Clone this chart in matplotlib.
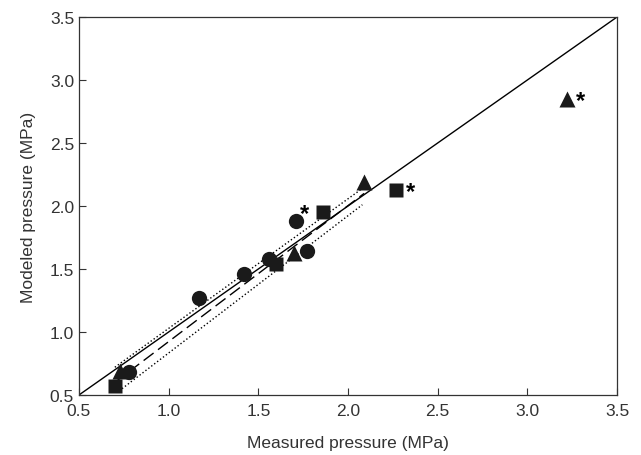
import matplotlib
matplotlib.use('agg')
import matplotlib.pyplot as plt

plt.rcParams['font.family'] = ['Liberation Sans', 'DejaVu Sans']

# measured vs modeled pressure (MPa)
circ_x = [0.78, 1.17, 1.42, 1.56, 1.71, 1.77]
circ_y = [0.68, 1.27, 1.46, 1.58, 1.88, 1.64]
sq_x = [0.70, 1.60, 1.86, 2.27]
sq_y = [0.57, 1.54, 1.95, 2.13]
tri_x = [0.73, 1.70, 2.09, 3.22]
tri_y = [0.69, 1.63, 2.19, 2.85]

# points flagged with an asterisk
star_x = [1.71, 2.27, 3.22]
star_y = [1.88, 2.13, 2.85]

# 1:1 line, regression and confidence bounds (end points)
one_x = [0.5, 3.5]
one_y = [0.5, 3.5]
fit_x = [0.70, 2.09]
fit_y = [0.60, 2.10]
up_x = [0.70, 2.10]
up_y = [0.72, 2.16]
lo_x = [0.74, 2.08]
lo_y = [0.55, 2.01]

fig = plt.figure(figsize=(6.41, 4.56), dpi=100)
ax = fig.add_axes([0.1232, 0.1316, 0.8394, 0.8289])

ax.plot(one_x, one_y, color='black', lw=1)
ax.plot(fit_x, fit_y, color='black', lw=1, dashes=(9, 4))
ax.plot(up_x, up_y, color='black', lw=1, ls=':')
ax.plot(lo_x, lo_y, color='black', lw=1, ls=':')

ax.plot(circ_x, circ_y, 'o', color='#1a1a1a', ms=11, mec='none')
ax.plot(sq_x, sq_y, 's', color='#1a1a1a', ms=10, mec='none')
ax.plot(tri_x, tri_y, '^', color='#1a1a1a', ms=11, mec='none')

# asterisk offsets (points) next to each flagged marker
star_dx = [3, 6.5, 6.5]
star_dy = [5.5, -1.5, -1.5]
for i in range(len(star_x)):
    ax.annotate('*', (star_x[i], star_y[i]), xytext=(star_dx[i], star_dy[i]),
                textcoords='offset points', fontsize=17, fontweight='bold',
                ha='left', va='center')

ax.set_xlim(0.5, 3.5)
ax.set_ylim(0.5, 3.5)
ax.set_xticks([0.5, 1.0, 1.5, 2.0, 2.5, 3.0, 3.5])
ax.set_yticks([0.5, 1.0, 1.5, 2.0, 2.5, 3.0, 3.5])
ax.set_xticklabels(['0.5', '1.0', '1.5', '2.0', '2.5', '3.0', '3.5'])
ax.set_yticklabels(['0.5', '1.0', '1.5', '2.0', '2.5', '3.0', '3.5'])
ax.tick_params(direction='in', length=5, labelsize=12.5, color='#333333', labelcolor='#333333')
ax.tick_params(axis='x', pad=6)
for s in ax.spines.values():
    s.set_linewidth(0.9)
    s.set_color('#333333')

ax.set_xlabel('Measured pressure (MPa)', fontsize=12.5, color='#333333', labelpad=12)
ax.set_ylabel('Modeled pressure (MPa)', fontsize=12.5, color='#333333', labelpad=10)

plt.savefig('out.png')
